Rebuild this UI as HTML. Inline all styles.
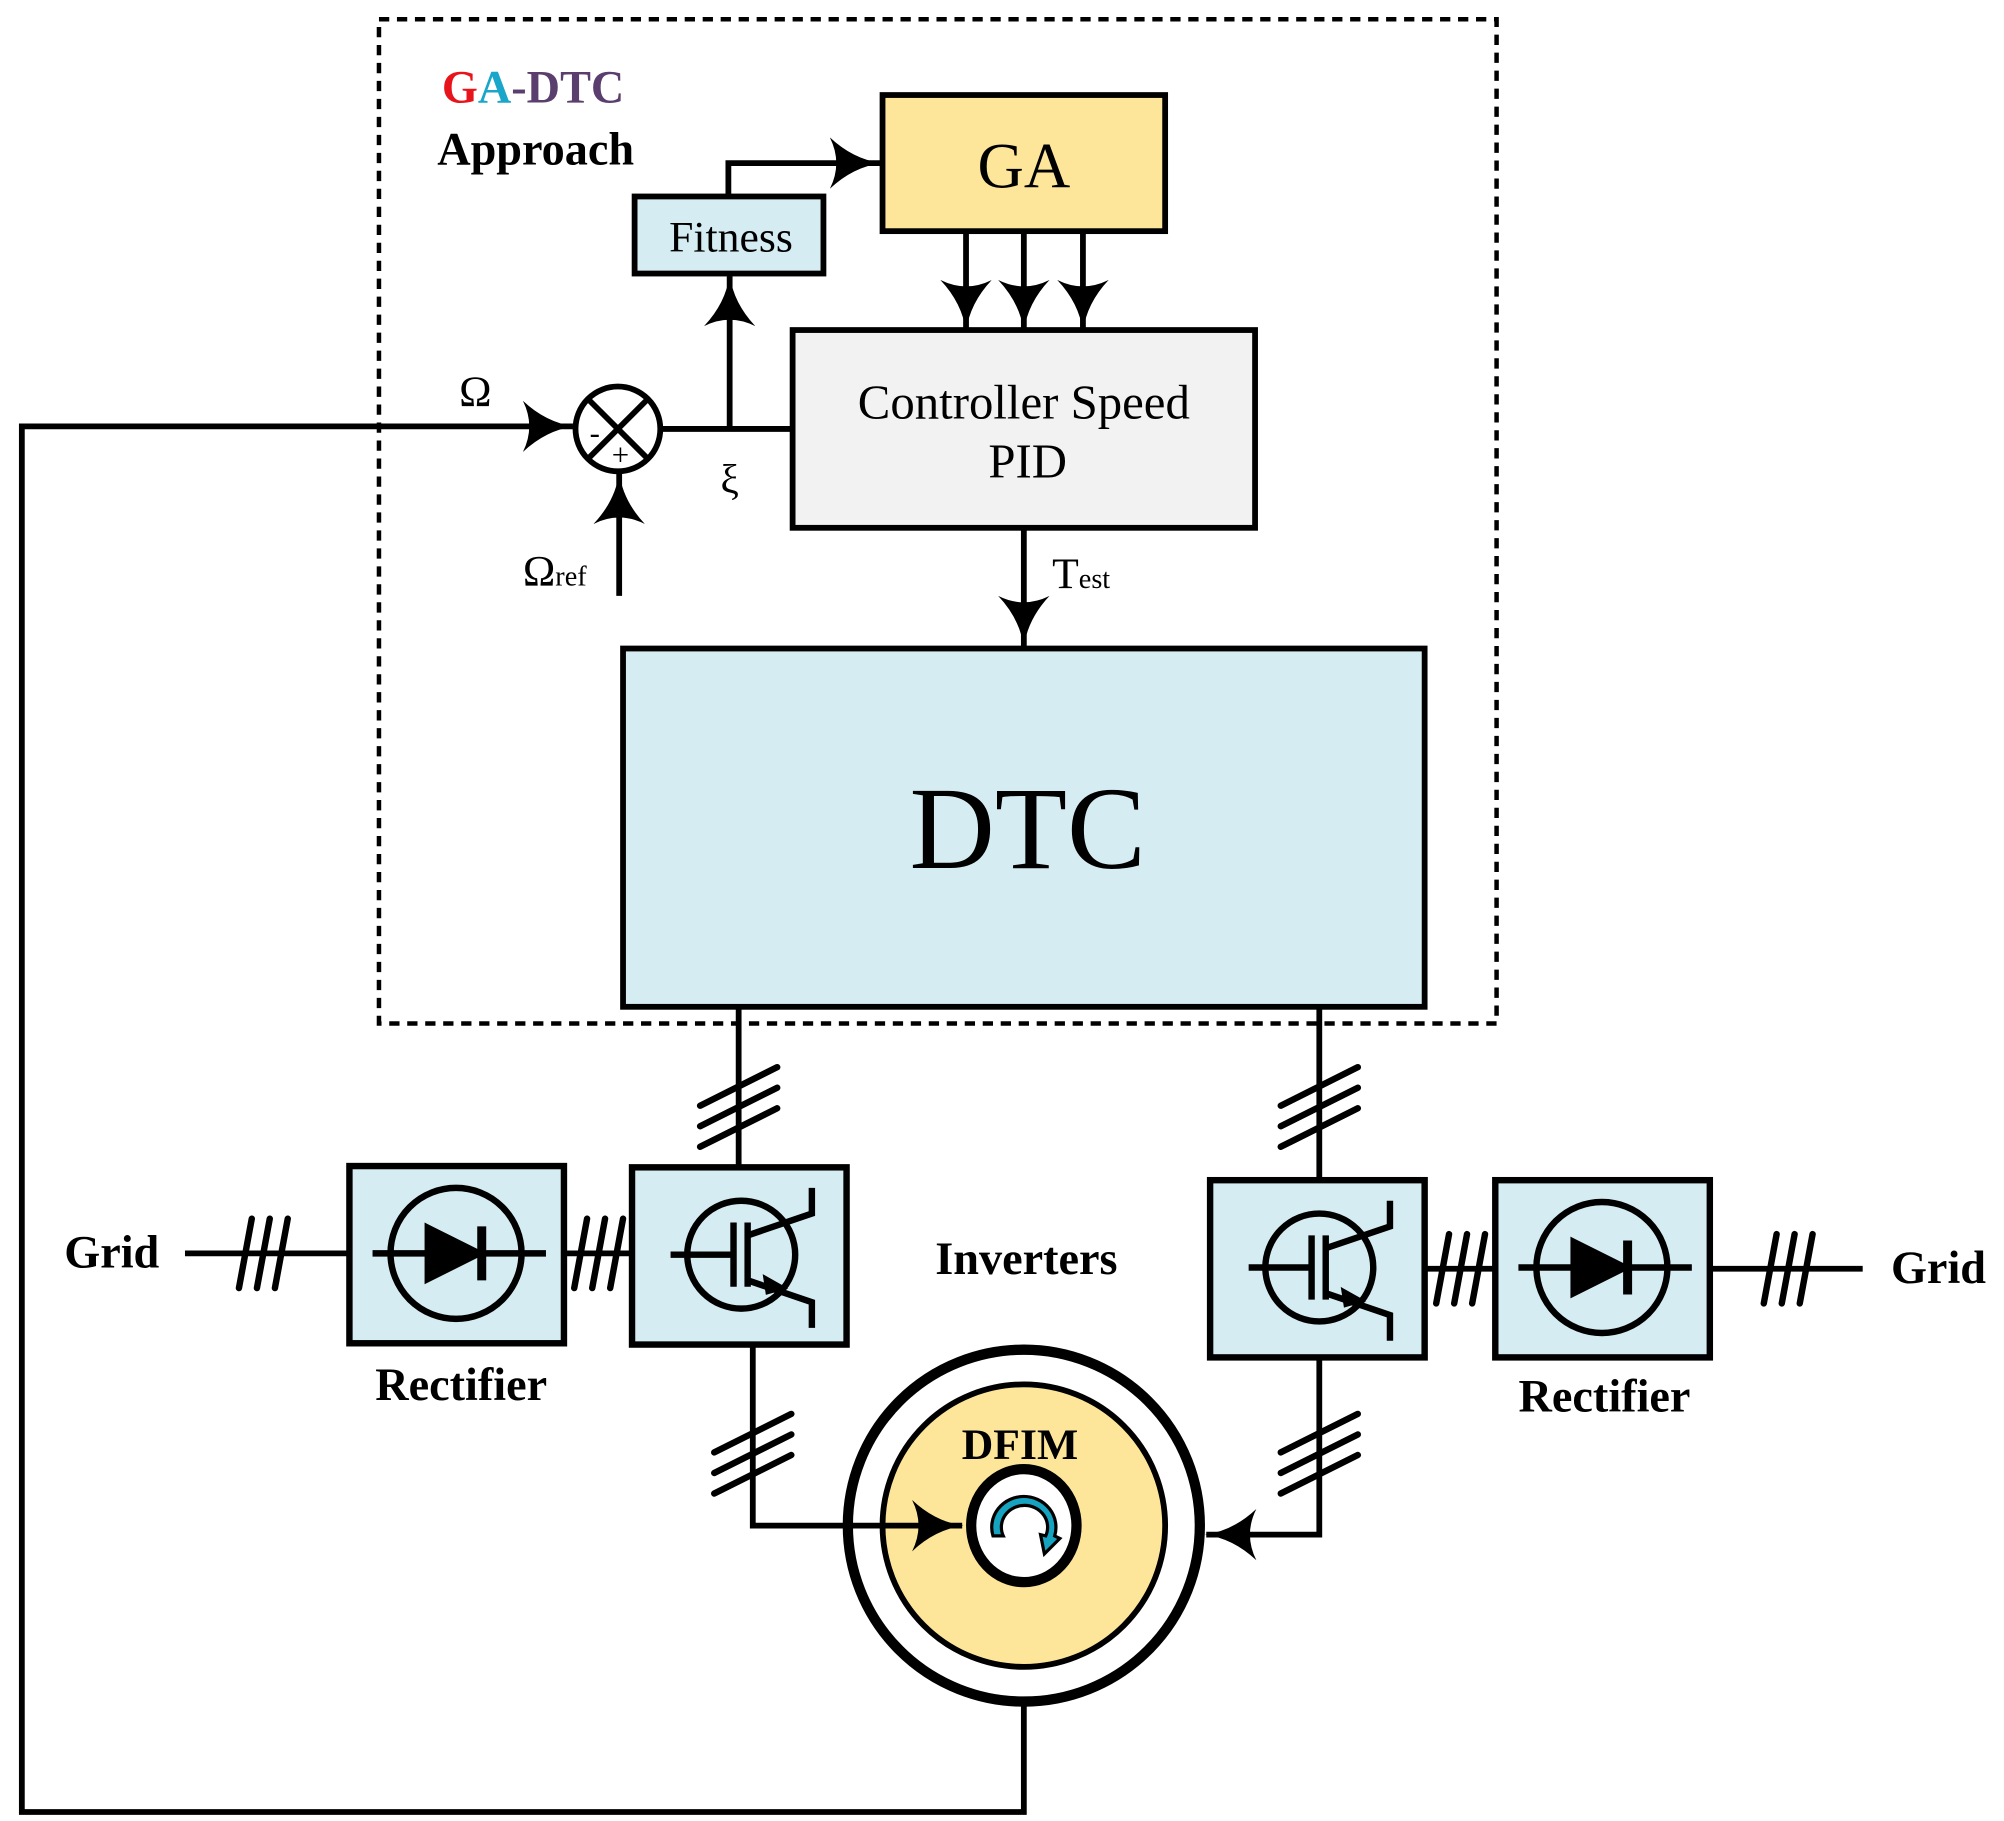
<!DOCTYPE html>
<html><head><meta charset="utf-8"><style>html,body{margin:0;padding:0;background:#fff}svg{display:block}</style></head>
<body>
<svg width="2004" height="1821" viewBox="3 2 1560 1418" preserveAspectRatio="none" xmlns="http://www.w3.org/2000/svg" font-family="'Liberation Serif',serif">
<defs>
<marker id="ar" viewBox="0 0 40 40" refX="39" refY="20" markerWidth="40" markerHeight="40" markerUnits="userSpaceOnUse" orient="auto">
<path d="M0,0 Q10,20 0,40 Q18,23 40,20 Q18,17 0,0Z" fill="#000"/>
</marker>
<g id="slv" stroke="#000" stroke-width="5" stroke-linecap="round">
<line x1="-30" y1="8" x2="30" y2="-22"/><line x1="-30" y1="24" x2="30" y2="-6"/><line x1="-30" y1="40" x2="30" y2="10"/>
</g>
<g id="slh" stroke="#000" stroke-width="5" stroke-linecap="round">
<line x1="-18" y1="27" x2="-8" y2="-27"/><line x1="-4" y1="27" x2="6" y2="-27"/><line x1="10" y1="27" x2="20" y2="-27"/>
</g>
<g id="igbt" stroke="#000" stroke-width="5" fill="none">
<rect x="-85" y="-68" width="167" height="138" fill="#d5edf2"/>
<circle cx="0" cy="0" r="42"/>
<line x1="-55" y1="0" x2="-6" y2="0"/>
<line x1="-6" y1="-25" x2="-6" y2="25"/><line x1="5" y1="-25" x2="5" y2="25"/>
<polyline points="5,-15 55,-32 55,-52"/>
<polyline points="5,20 55,37 55,57"/>
<path d="M18,17 L34,26 L20,30Z" fill="#000" stroke-width="2"/>
</g>
<g id="rect" stroke="#000" stroke-width="5" fill="none">
<rect x="-83" y="-68" width="167" height="138" fill="#d5edf2"/>
<circle cx="0" cy="0" r="51"/>
<line x1="-65" y1="0" x2="70" y2="0"/>
<path d="M-22,-20 L18,0 L-22,20Z" fill="#000"/>
<line x1="20" y1="-21" x2="20" y2="21" stroke-width="7"/>
</g>
</defs>
<g stroke="#000" stroke-width="4.5" fill="none">
<rect x="298" y="17" width="870" height="782" stroke-width="3.5" stroke-dasharray="8,6"/>
<rect x="690" y="76" width="220" height="106" fill="#fde69a"/>
<rect x="497" y="155" width="147" height="60" fill="#d5edf2"/>
<rect x="620" y="259" width="360" height="154" fill="#f2f2f2"/>
<rect x="488" y="507" width="624" height="279" fill="#d5edf2"/>
<polyline points="570,155 570,129 688,129" marker-end="url(#ar)"/>
<line x1="755" y1="182" x2="755" y2="259" marker-end="url(#ar)"/>
<line x1="800" y1="182" x2="800" y2="259" marker-end="url(#ar)"/>
<line x1="846" y1="182" x2="846" y2="259" marker-end="url(#ar)"/>
<circle cx="484" cy="336" r="33"/>
<line x1="461" y1="313" x2="507" y2="359"/><line x1="507" y1="313" x2="461" y2="359"/>
<line x1="517" y1="336" x2="620" y2="336"/>
<line x1="571" y1="336" x2="571" y2="217" marker-end="url(#ar)"/>
<line x1="485" y1="466" x2="485" y2="371" marker-end="url(#ar)"/>
<polyline points="800,1232 800,1413 20,1413 20,334 449,334" marker-end="url(#ar)"/>
<line x1="800" y1="413" x2="800" y2="505" marker-end="url(#ar)"/>
<line x1="578" y1="786" x2="578" y2="910"/>
<line x1="1030" y1="786" x2="1030" y2="920"/>
<line x1="147" y1="978" x2="275" y2="978"/>
<line x1="442" y1="978" x2="495" y2="978"/>
<line x1="1112" y1="990" x2="1166" y2="990"/>
<line x1="1333" y1="990" x2="1453" y2="990"/>
<circle cx="800" cy="1190" r="137" stroke-width="8" fill="#fff"/>
<circle cx="800" cy="1190" r="110" fill="#fde69a"/>
<polyline points="589,1048 589,1190 752,1190" marker-end="url(#ar)"/>
<polyline points="1030,1058 1030,1197 942,1197" marker-end="url(#ar)"/>
<ellipse cx="800" cy="1190" rx="41" ry="44" stroke-width="8" fill="#fff"/>
</g>
<path d="M776,1198 A25,24 0 1 1 824,1198 L828,1200 L816,1212 L813,1197 L817,1198 A18,17 0 1 0 784,1198Z" fill="#16a3bf" stroke="#000" stroke-width="2.5"/>
<use href="#slv" x="578" y="855"/>
<use href="#slv" x="1030" y="855"/>
<use href="#slv" x="589" y="1125"/>
<use href="#slv" x="1030" y="1125"/>
<use href="#slh" x="207" y="978"/>
<use href="#slh" x="468" y="978"/>
<use href="#slh" x="1139" y="990"/>
<use href="#slh" x="1394" y="990"/>
<use href="#igbt" x="580" y="979"/>
<use href="#igbt" x="1030" y="989"/>
<use href="#rect" x="358" y="978"/>
<use href="#rect" x="1250" y="989"/>
<g fill="#000" text-anchor="middle">
<text x="418" y="82" font-size="36" font-weight="bold"><tspan fill="#e8141b">G</tspan><tspan fill="#1aa6c9">A</tspan><tspan fill="#5a3f6e">-DTC</tspan></text>
<text x="420" y="130" font-size="36" font-weight="bold">Approach</text>
<text x="800" y="148" font-size="50">GA</text>
<text x="572" y="198" font-size="34">Fitness</text>
<text x="800" y="328" font-size="38">Controller Speed</text>
<text x="803" y="374" font-size="38">PID</text>
<text x="803" y="678" font-size="92">DTC</text>
<text x="373" y="318" font-size="34">Ω</text>
<text x="571" y="386" font-size="32">ξ</text>
<text x="466" y="347" font-size="24">-</text>
<text x="486" y="364" font-size="24">+</text>
<text x="410" y="458" font-size="34" text-anchor="start">Ω<tspan font-size="22">ref</tspan></text>
<text x="822" y="460" font-size="34" text-anchor="start">T<tspan font-size="22">est</tspan></text>
<text x="90" y="989" font-size="36" font-weight="bold">Grid</text>
<text x="1512" y="1001" font-size="36" font-weight="bold">Grid</text>
<text x="362" y="1092" font-size="36" font-weight="bold">Rectifier</text>
<text x="1252" y="1101" font-size="36" font-weight="bold">Rectifier</text>
<text x="802" y="994" font-size="36" font-weight="bold">Inverters</text>
<text x="797" y="1138" font-size="34" font-weight="bold">DFIM</text>
</g>
</svg>
</body></html>
